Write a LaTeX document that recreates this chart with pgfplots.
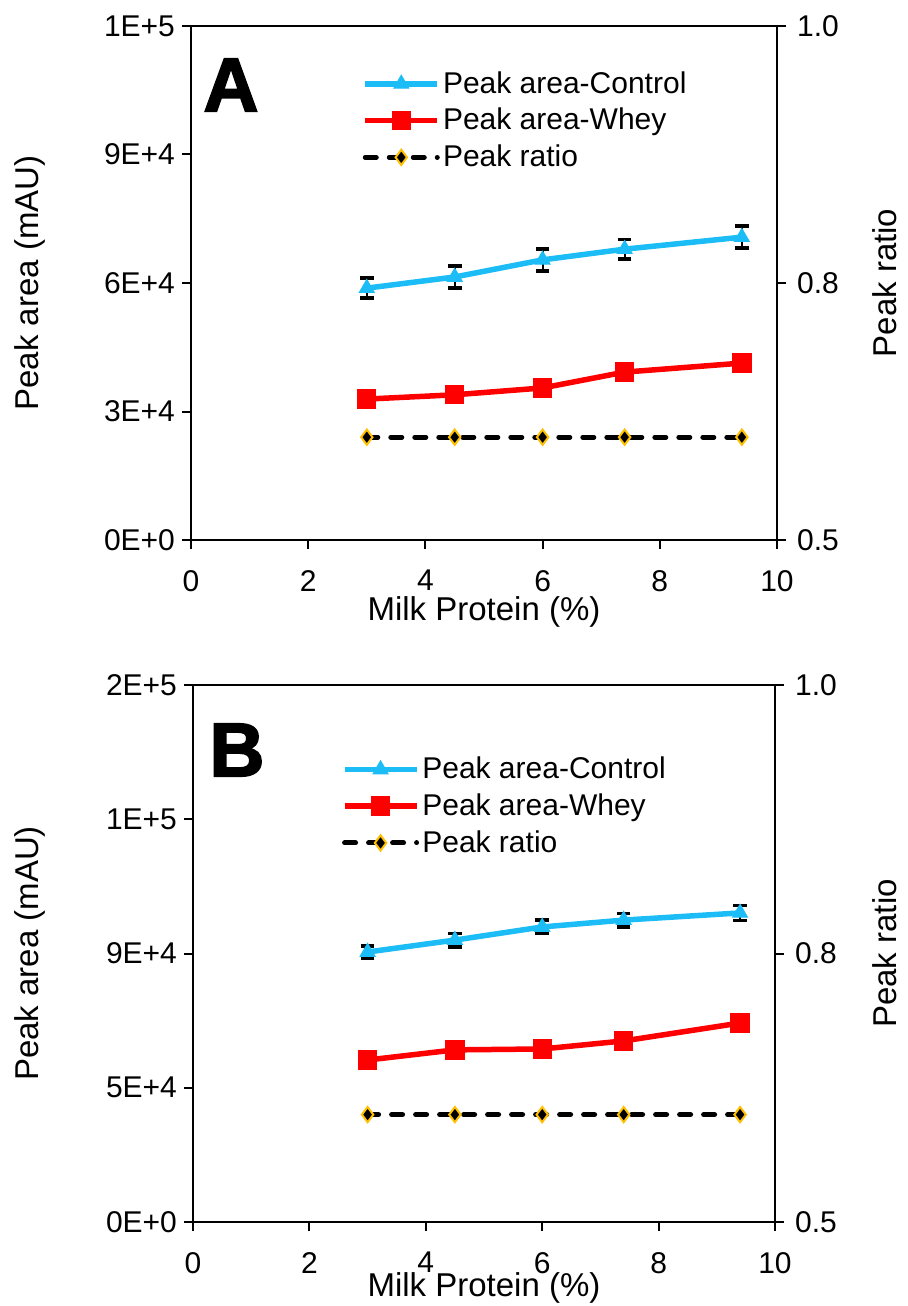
\documentclass[border=0pt]{standalone}
\usepackage{fontspec}
\setmainfont{Liberation Sans}
\newfontfamily\heavy[BoldFeatures={FakeBold=2.5}]{Liberation Sans}
\usepackage{pgfplots}
\pgfplotsset{compat=1.18}
\definecolor{ctrlBlue}{HTML}{1CBDF6}
\definecolor{wheyRed}{HTML}{FF0000}
\definecolor{ratioGold}{HTML}{FFC000}

\pgfplotstableread{
x    y      e
3.0  58800  2300
4.5  61400  2550
6.0  65400  2550
7.4  67900  2300
9.4  70700  2550
}\ctrlA
\pgfplotstableread{
x    y
3.0  32900
4.5  33900
6.0  35500
7.4  39200
9.4  41300
}\wheyA
\pgfplotstableread{
x    y      e
3.0  90500  2000
4.5  94500  2250
6.0  98900  2250
7.4  101200 2250
9.4  103600 2550
}\ctrlB
\pgfplotstableread{
x    y
3.0  54300
4.5  57700
6.0  58000
7.4  60700
9.4  66700
}\wheyB
\pgfplotstableread{
x    y
3.0  0.60
4.5  0.60
6.0  0.60
7.4  0.60
9.4  0.60
}\ratioA
\pgfplotstableread{
x    y
3.0  0.60
4.5  0.60
6.0  0.60
7.4  0.60
9.4  0.60
}\ratioB

\pgfplotsset{
  base/.style={
    scale only axis, xmin=0, xmax=10,
    tick align=outside, major tick length=4.5pt,
    axis line style={line width=1pt},
    every tick/.style={black,line width=1pt},
    tick label style={font=\fontsize{15}{18}\selectfont},
    label style={font=\fontsize{16.5}{19}\selectfont},
    xticklabel style={yshift=-7pt},
    /pgf/number format/assume math mode=true,
    scaled y ticks=false,
  },
  ctrl/.style={ctrlBlue, line width=2.75pt, mark=triangle*, mark size=4.3pt,
    mark options={solid, fill=ctrlBlue, draw=ctrlBlue, line width=0.5pt}},
  whey/.style={wheyRed, line width=2.75pt, mark=square*, mark size=4.6pt,
    mark options={solid, fill=wheyRed, draw=wheyRed, line width=0.5pt}},
  ratio/.style={black, line width=2.5pt, line cap=round, dash pattern=on 5.5pt off 6.5pt,
    mark=diamond*, mark size=3.8pt,
    mark options={solid, fill=black, draw=ratioGold, line width=1pt}},
  errs/.style={error bars/.cd, y dir=both, y explicit,
    error bar style={black, line width=1pt, solid},
    error mark options={black, rotate=90, mark size=3.4pt, line width=1.8pt}},
  legimg/.style={legend image code/.code={%
    \draw[mark repeat=2, mark phase=2, ##1] plot coordinates {(0pt,0pt)(18pt,0pt)(36pt,0pt)};}},
  leg/.style={legimg, legend cell align=left,
    legend style={draw=none, fill=none, font=\fontsize{15}{18}\selectfont,
      inner sep=0pt, row sep=2pt, column sep=-0.5pt}},
  rside/.style={yticklabel style={xshift=2pt}},
}

\begin{document}
\begin{tikzpicture}
% ---------- panel A ----------
\begin{axis}[base, at={(0,0)}, anchor=south west, width=293pt, height=257pt,
  ymin=0, ymax=120000,
  xtick={0,2,4,6,8,10}, xtick pos=bottom, ytick pos=left,
  ytick={0,30000,60000,90000,120000},
  yticklabels={0E+0,3E+4,6E+4,9E+4,1E+5},
  xlabel={Milk Protein (\%)}, ylabel={Peak area (mAU)},
  xlabel style={at={(axis description cs:0.5,-0.14)}, anchor=center},
  ylabel style={at={(axis description cs:-0.275,0.5)}, anchor=center}]
\addplot[ctrl, errs] table[x=x, y=y, y error=e] {\ctrlA};
\addplot[whey] table[x=x, y=y] {\wheyA};
\end{axis}
\begin{axis}[base, rside, at={(0,0)}, anchor=south west, width=293pt, height=257pt,
  ymin=0.5, ymax=1, axis x line=none, axis y line*=right,
  ytick={0.5,0.75,1}, yticklabels={0.5,0.8,1.0},
  ylabel={Peak ratio},
  ylabel style={at={(axis description cs:1.183,0.5)}, anchor=center},
  leg, legend style={at={(axis description cs:0.292,0.92)}, anchor=north west}]
\addlegendimage{ctrl}
\addlegendentry{Peak area-Control}
\addlegendimage{whey}
\addlegendentry{Peak area-Whey}
\addplot[ratio] table[x=x, y=y] {\ratioA};
\addlegendentry{Peak ratio}
\end{axis}
\node[font=\heavy\bfseries\fontsize{38}{40}\selectfont] at (20pt,227.5pt) {A};

% ---------- panel B ----------
\begin{axis}[base, at={(1pt,-341pt)}, anchor=south west, width=291pt, height=268.5pt,
  ymin=0, ymax=180000,
  xtick={0,2,4,6,8,10}, xtick pos=bottom, ytick pos=left,
  ytick={0,45000,90000,135000,180000},
  yticklabels={0E+0,5E+4,9E+4,1E+5,2E+5},
  xlabel={Milk Protein (\%)}, ylabel={Peak area (mAU)},
  xlabel style={at={(axis description cs:0.5,-0.122)}, anchor=center},
  ylabel style={at={(axis description cs:-0.28,0.5)}, anchor=center}]
\addplot[ctrl, errs] table[x=x, y=y, y error=e] {\ctrlB};
\addplot[whey] table[x=x, y=y] {\wheyB};
\end{axis}
\begin{axis}[base, rside, at={(1pt,-341pt)}, anchor=south west, width=291pt, height=268.5pt,
  ymin=0.5, ymax=1, axis x line=none, axis y line*=right,
  ytick={0.5,0.75,1}, yticklabels={0.5,0.8,1.0},
  ylabel={Peak ratio},
  ylabel style={at={(axis description cs:1.188,0.5)}, anchor=center},
  leg, legend style={at={(axis description cs:0.255,0.874)}, anchor=north west}]
\addlegendimage{ctrl}
\addlegendentry{Peak area-Control}
\addlegendimage{whey}
\addlegendentry{Peak area-Whey}
\addplot[ratio] table[x=x, y=y] {\ratioB};
\addlegendentry{Peak ratio}
\end{axis}
\node[font=\heavy\bfseries\fontsize{38}{40}\selectfont] at (23pt,-105pt) {B};

\pgfresetboundingbox
\path[use as bounding box] (-95.5pt,-383pt) rectangle (358.5pt,270pt);
\end{tikzpicture}
\end{document}
